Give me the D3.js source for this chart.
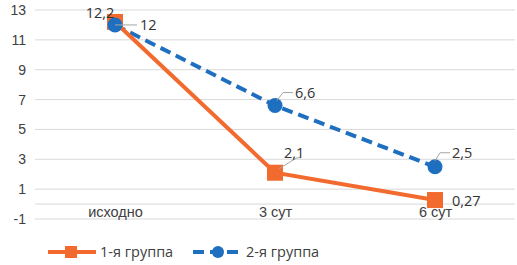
<!DOCTYPE html>
<html>
<head>
  <meta charset="utf-8">
  <style>
    body { margin: 0; background: #fff; }
    svg { font-family: "Open Sans", "DejaVu Sans", sans-serif; }
  </style>
</head>
<body>
  <div id="chart"></div>
  <script src="https://d3js.org/d3.v7.min.js"></script>
  <script>
    var categories = ['исходно', '3 сут', '6 сут'];
    var group1 = [12.2, 2.1, 0.27];
    var group2 = [12, 6.6, 2.5];
    var seriesNames = ['1-я группа', '2-я группа'];
    var yTicks = [-1, 1, 3, 5, 7, 9, 11, 13];

    var width = 517, height = 265;
    var plot = {left: 35, right: 515, top: 10, bottom: 219};

    var svg = d3.select('#chart').append('svg')
        .attr('width', width)
        .attr('height', height);

    var x = d3.scalePoint()
        .domain(categories)
        .range([plot.left, plot.right])
        .padding(0.5);

    var y = d3.scaleLinear()
        .domain([-1, 13])
        .range([plot.bottom, plot.top]);

    // gridlines
    svg.append('g')
        .selectAll('line')
        .data(yTicks)
        .join('line')
        .attr('x1', plot.left).attr('x2', plot.right)
        .attr('y1', d => y(d)).attr('y2', d => y(d))
        .attr('stroke', '#d9d9d9').attr('stroke-width', 1);

    // zero line (category axis)
    svg.append('line')
        .attr('x1', plot.left).attr('x2', plot.right)
        .attr('y1', y(0)).attr('y2', y(0))
        .attr('stroke', '#d9d9d9').attr('stroke-width', 1);

    var yAxis = svg.append('g')
        .attr('transform', 'translate(26,0)')
        .call(d3.axisLeft(y).tickValues(yTicks).tickSize(0).tickPadding(0)
          .tickFormat(d => String(d)));
    yAxis.select('.domain').remove();
    yAxis.selectAll('text')
        .attr('fill', '#404040')
        .style('font-size', '14px');

    var xAxis = svg.append('g')
        .attr('transform', 'translate(0,' + y(0) + ')')
        .call(d3.axisBottom(x).tickSize(0).tickPadding(3));
    xAxis.select('.domain').remove();
    xAxis.selectAll('text')
        .attr('fill', '#404040')
        .style('font-size', '14.5px');

    var orange = '#f26a2e', blue = '#1f6fc0';

    var line = d3.line()
        .x((d, i) => x(categories[i]))
        .y(d => y(d));

    // group 2 (dashed, blue)
    svg.append('path')
        .datum(group2)
        .attr('d', line)
        .attr('fill', 'none')
        .attr('stroke', blue)
        .attr('stroke-width', 4)
        .attr('stroke-dasharray', '11,6');

    // group 1 (solid, orange)
    svg.append('path')
        .datum(group1)
        .attr('d', line)
        .attr('fill', 'none')
        .attr('stroke', orange)
        .attr('stroke-width', 4);

    svg.append('g')
        .selectAll('rect')
        .data(group1)
        .join('rect')
        .attr('x', (d, i) => x(categories[i]) - 8)
        .attr('y', d => y(d) - 8)
        .attr('width', 16).attr('height', 16)
        .attr('fill', orange);

    svg.append('g')
        .selectAll('circle')
        .data(group2)
        .join('circle')
        .attr('cx', (d, i) => x(categories[i]))
        .attr('cy', d => y(d))
        .attr('r', 7.5)
        .attr('fill', blue);

    // data labels
    var fmt = v => String(v).replace('.', ',');
    var labels = [
      {cat: 0, v: group1[0], dx: -15, dy: -4, anchor: 'middle', leader: null},
      {cat: 0, v: group2[0], dx: 25, dy: 5, anchor: 'start', leader: [[0, 0], [22, 0]]},
      {cat: 1, v: group2[1], dx: 20, dy: -8, anchor: 'start', leader: [[2, -5], [8, -13], [18, -13]]},
      {cat: 1, v: group1[1], dx: 9, dy: -15, anchor: 'start', leader: [[4, -4], [22, -15], [26, -15]]},
      {cat: 2, v: group2[2], dx: 17, dy: -9, anchor: 'start', leader: [[0, -6], [5, -14], [15, -14]]},
      {cat: 2, v: group1[2], dx: 17, dy: 6, anchor: 'start', leader: null}
    ];

    labels.forEach(function (l) {
      var cx = x(categories[l.cat]), cy = y(l.v);
      if (l.leader) {
        svg.append('path')
          .attr('d', d3.line()(l.leader.map(p => [cx + p[0], cy + p[1]])))
          .attr('fill', 'none')
          .attr('stroke', '#a6a6a6')
          .attr('stroke-width', 1);
      }
      svg.append('text')
        .attr('x', cx + l.dx)
        .attr('y', cy + l.dy)
        .attr('text-anchor', l.anchor)
        .attr('fill', '#333')
        .style('font-size', '14.5px')
        .text(fmt(l.v));
    });

    // legend
    var legend = svg.append('g').attr('transform', 'translate(0,252)');
    legend.append('line')
        .attr('x1', 48).attr('x2', 96)
        .attr('stroke', orange).attr('stroke-width', 4);
    legend.append('rect')
        .attr('x', 65).attr('y', -6).attr('width', 12).attr('height', 12)
        .attr('fill', orange);
    legend.append('text')
        .attr('x', 100).attr('y', 5)
        .attr('fill', '#404040').style('font-size', '14.5px')
        .text(seriesNames[0]);

    legend.append('line')
        .attr('x1', 193).attr('x2', 241)
        .attr('stroke', blue).attr('stroke-width', 4)
        .attr('stroke-dasharray', '11,6');
    legend.append('circle')
        .attr('cx', 218).attr('cy', 0).attr('r', 6)
        .attr('fill', blue);
    legend.append('text')
        .attr('x', 246).attr('y', 5)
        .attr('fill', '#404040').style('font-size', '14.5px')
        .text(seriesNames[1]);
  </script>
</body>
</html>
